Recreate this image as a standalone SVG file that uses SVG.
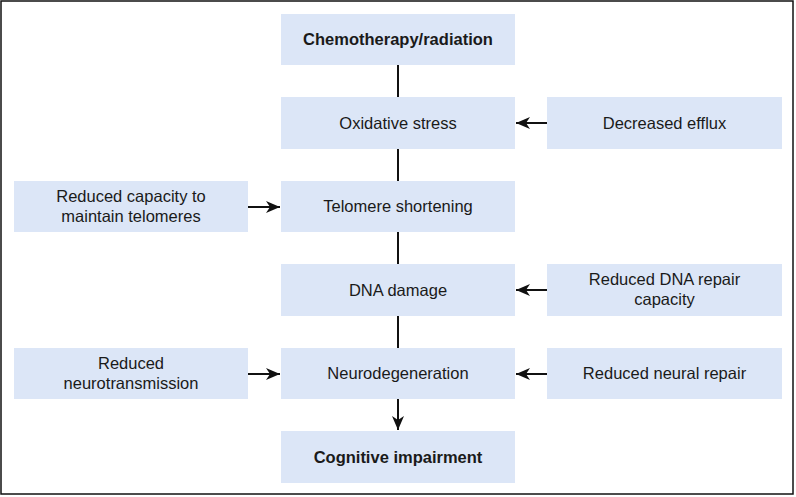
<svg xmlns="http://www.w3.org/2000/svg" width="796" height="497" viewBox="0 0 796 497">
<defs>
<style>
.box{fill:#dce6f7;}
.t{font-family:"Liberation Sans",Arial,sans-serif;font-size:16.5px;fill:#1a1a1a;text-anchor:middle;}
.b{font-weight:bold;}
.ln{stroke:#111;stroke-width:2;fill:none;}
</style>
<marker id="ah" viewBox="0 0 14 12" refX="14" refY="6" markerWidth="14" markerHeight="12" markerUnits="userSpaceOnUse" orient="auto">
<path d="M0,0 L14,6 L0,12 L4,6 Z" fill="#111"/>
</marker>
</defs>
<rect x="1" y="1" width="792" height="493" fill="#fff" stroke="#111" stroke-width="1.5"/>
<g id="connectors">
<line class="ln" x1="398" y1="65" x2="398" y2="97"/>
<line class="ln" x1="398" y1="149" x2="398" y2="181"/>
<line class="ln" x1="398" y1="232" x2="398" y2="264"/>
<line class="ln" x1="398" y1="316" x2="398" y2="348"/>
<line class="ln" x1="398" y1="399" x2="398" y2="430" marker-end="url(#ah)"/>
<line class="ln" x1="547" y1="123" x2="516" y2="123" marker-end="url(#ah)"/>
<line class="ln" x1="248" y1="207" x2="280" y2="207" marker-end="url(#ah)"/>
<line class="ln" x1="547" y1="290" x2="516" y2="290" marker-end="url(#ah)"/>
<line class="ln" x1="248" y1="374" x2="280" y2="374" marker-end="url(#ah)"/>
<line class="ln" x1="547" y1="374" x2="516" y2="374" marker-end="url(#ah)"/>
</g>
<g id="chemo"><rect class="box" x="281" y="14" width="234" height="51"/><text class="t b" x="398" y="45">Chemotherapy/radiation</text></g>
<g id="oxidative"><rect class="box" x="281" y="97" width="234" height="52"/><text class="t" x="398" y="129">Oxidative stress</text></g>
<g id="efflux"><rect class="box" x="547" y="97" width="235" height="52"/><text class="t" x="664.5" y="129">Decreased efflux</text></g>
<g id="telomere"><rect class="box" x="281" y="181" width="234" height="51"/><text class="t" x="398" y="212">Telomere shortening</text></g>
<g id="capacity"><rect class="box" x="14" y="181" width="234" height="51"/><text class="t" x="131" y="202">Reduced capacity to</text><text class="t" x="131" y="222">maintain telomeres</text></g>
<g id="dna"><rect class="box" x="281" y="264" width="234" height="52"/><text class="t" x="398" y="296">DNA damage</text></g>
<g id="dnarepair"><rect class="box" x="547" y="264" width="235" height="52"/><text class="t" x="664.5" y="285">Reduced DNA repair</text><text class="t" x="664.5" y="305">capacity</text></g>
<g id="neuro"><rect class="box" x="281" y="348" width="234" height="51"/><text class="t" x="398" y="379">Neurodegeneration</text></g>
<g id="neurotrans"><rect class="box" x="14" y="348" width="234" height="51"/><text class="t" x="131" y="369">Reduced</text><text class="t" x="131" y="389">neurotransmission</text></g>
<g id="neuralrepair"><rect class="box" x="547" y="348" width="235" height="51"/><text class="t" x="664.5" y="379">Reduced neural repair</text></g>
<g id="cognitive"><rect class="box" x="281" y="431" width="234" height="52"/><text class="t b" x="398" y="463">Cognitive impairment</text></g>
</svg>
